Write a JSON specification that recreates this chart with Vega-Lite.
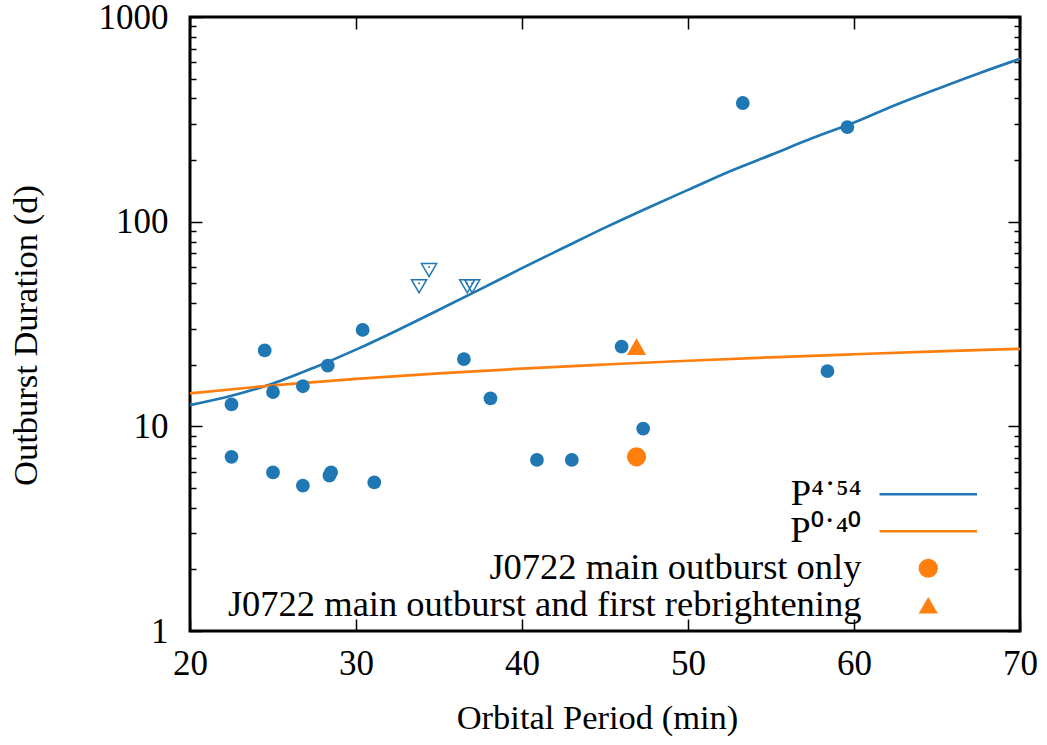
{
  "$schema": "https://vega.github.io/schema/vega-lite/v6.json",
  "width": 830,
  "height": 614,
  "autosize": {"type": "none"},
  "padding": {"left": 190, "top": 17, "right": 27, "bottom": 114},
  "background": "white",
  "config": {
    "view": {"stroke": "black", "strokeWidth": 3},
    "font": "Liberation Serif",
    "axis": {
      "grid": false,
      "domain": false,
      "labelFont": "Liberation Serif",
      "labelFontSize": 35,
      "labelColor": "black",
      "titleFont": "Liberation Serif",
      "titleFontSize": 34.5,
      "titleFontWeight": "normal",
      "titleColor": "black",
      "tickColor": "black",
      "tickWidth": 1.5,
      "labelFlush": false,
      "labelOverlap": false,
      "labelBound": false
    }
  },
  "datasets": {
    "curves": [
      {"P": 20, "D": 12.7, "series": "P4.54"},
      {"P": 22.5, "D": 14.1, "series": "P4.54"},
      {"P": 25, "D": 16.2, "series": "P4.54"},
      {"P": 27.5, "D": 19.4, "series": "P4.54"},
      {"P": 30, "D": 23.7, "series": "P4.54"},
      {"P": 32.5, "D": 29.5, "series": "P4.54"},
      {"P": 35, "D": 37.1, "series": "P4.54"},
      {"P": 37.5, "D": 46.8, "series": "P4.54"},
      {"P": 40, "D": 59.3, "series": "P4.54"},
      {"P": 42.5, "D": 74.5, "series": "P4.54"},
      {"P": 45, "D": 93.5, "series": "P4.54"},
      {"P": 47.5, "D": 116, "series": "P4.54"},
      {"P": 50, "D": 143, "series": "P4.54"},
      {"P": 52.5, "D": 176, "series": "P4.54"},
      {"P": 55, "D": 212, "series": "P4.54"},
      {"P": 57.5, "D": 256, "series": "P4.54"},
      {"P": 60, "D": 305, "series": "P4.54"},
      {"P": 62.5, "D": 372, "series": "P4.54"},
      {"P": 65, "D": 445, "series": "P4.54"},
      {"P": 67.5, "D": 530, "series": "P4.54"},
      {"P": 70, "D": 625, "series": "P4.54"},
      {"P": 20, "D": 14.5, "series": "P0.40"},
      {"P": 25, "D": 15.85, "series": "P0.40"},
      {"P": 30, "D": 17.05, "series": "P0.40"},
      {"P": 35, "D": 18.13, "series": "P0.40"},
      {"P": 40, "D": 19.14, "series": "P0.40"},
      {"P": 45, "D": 20.05, "series": "P0.40"},
      {"P": 50, "D": 20.92, "series": "P0.40"},
      {"P": 55, "D": 21.73, "series": "P0.40"},
      {"P": 60, "D": 22.5, "series": "P0.40"},
      {"P": 65, "D": 23.24, "series": "P0.40"},
      {"P": 70, "D": 23.93, "series": "P0.40"}
    ],
    "obs": [
      {"P": 22.5, "D": 12.8, "kind": "detected"},
      {"P": 24.5, "D": 23.5, "kind": "detected"},
      {"P": 25.0, "D": 14.7, "kind": "detected"},
      {"P": 26.8, "D": 15.7, "kind": "detected"},
      {"P": 28.3, "D": 19.8, "kind": "detected"},
      {"P": 30.4, "D": 29.6, "kind": "detected"},
      {"P": 36.5, "D": 21.3, "kind": "detected"},
      {"P": 38.1, "D": 13.7, "kind": "detected"},
      {"P": 22.5, "D": 7.1, "kind": "detected"},
      {"P": 25.0, "D": 5.95, "kind": "detected"},
      {"P": 26.8, "D": 5.13, "kind": "detected"},
      {"P": 28.4, "D": 5.75, "kind": "detected"},
      {"P": 28.5, "D": 5.95, "kind": "detected"},
      {"P": 31.1, "D": 5.32, "kind": "detected"},
      {"P": 40.9, "D": 6.85, "kind": "detected"},
      {"P": 43.0, "D": 6.85, "kind": "detected"},
      {"P": 46.0, "D": 24.5, "kind": "detected"},
      {"P": 47.3, "D": 9.75, "kind": "detected"},
      {"P": 53.3, "D": 380, "kind": "detected"},
      {"P": 59.6, "D": 290, "kind": "detected"},
      {"P": 58.4, "D": 18.6, "kind": "detected"},
      {"P": 33.8, "D": 50, "kind": "limit"},
      {"P": 34.4, "D": 60, "kind": "limit"},
      {"P": 36.7, "D": 50, "kind": "limit"},
      {"P": 37.0, "D": 50, "kind": "limit"}
    ],
    "j0722": [
      {"P": 46.9, "D": 7.1, "series": "J0722 main outburst only"},
      {"P": 46.9, "D": 24.5, "series": "J0722 main outburst and first rebrightening"}
    ]
  },
  "layer": [
    {
      "data": {"name": "curves"},
      "mark": {"type": "line", "strokeWidth": 2.7, "interpolate": "monotone"},
      "encoding": {
        "x": {
          "field": "P", "type": "quantitative",
          "scale": {"domain": [20, 70], "nice": false, "zero": false},
          "axis": {
            "orient": "bottom",
            "values": [20, 30, 40, 50, 60, 70],
            "tickSize": -12,
            "labelPadding": 27,
            "title": "Orbital Period (min)",
            "titleX": 407,
            "titleY": 97,
            "titleAlign": "center",
            "titleBaseline": "alphabetic"
          }
        },
        "y": {
          "field": "D", "type": "quantitative",
          "scale": {"type": "log", "domain": [1, 1000], "nice": false},
          "axis": {
            "orient": "left",
            "values": [1, 2, 3, 4, 5, 6, 7, 8, 9, 10, 20, 30, 40, 50, 60, 70, 80, 90, 100, 200, 300, 400, 500, 600, 700, 800, 900, 1000],
            "labelExpr": "datum.value == 1 || datum.value == 10 || datum.value == 100 || datum.value == 1000 ? format(datum.value, 'd') : ''",
            "tickSize": {"condition": {"test": "datum.value == 1 || datum.value == 10 || datum.value == 100 || datum.value == 1000", "value": -12}, "value": -6},
            "labelPadding": 34,
            "labelBaseline": "middle",
            "title": "Outburst Duration (d)",
            "titleX": -153.5,
            "titleY": 318,
            "titleAlign": "center",
            "titleBaseline": "alphabetic",
            "titleAngle": -90
          }
        },
        "color": {
          "field": "series", "type": "nominal",
          "scale": {
            "domain": ["P4.54", "P0.40", "J0722 main outburst only", "J0722 main outburst and first rebrightening"],
            "range": ["#1f77b4", "#ff7f0e", "#ff7f0e", "#ff7f0e"]
          },
          "legend": {
            "title": null,
            "orient": "none",
            "legendX": 720,
            "legendY": 459,
            "symbolSize": 100,
            "symbolOffset": 0,
            "labelFont": "Liberation Serif",
            "labelFontSize": 36.5,
            "labelColor": "black",
            "labelAlign": "right",
            "labelOffset": -85,
            "labelLimit": 2000,
            "rowPadding": 0,
            "labelExpr": "datum.value == 'P4.54' ? 'P⁴˙⁵⁴' : datum.value == 'P0.40' ? 'P⁰˙⁴⁰' : datum.value",
            "encode": {
              "symbols": {
                "update": {
                  "shape": {"signal": "datum.value == 'J0722 main outburst only' ? 'circle' : datum.value == 'J0722 main outburst and first rebrightening' ? 'triangle-up' : 'stroke'"},
                  "size": {"signal": "datum.value == 'P4.54' || datum.value == 'P0.40' ? 9500 : 370"},
                  "fill": {"scale": "color", "field": "value"},
                  "stroke": {"scale": "color", "field": "value"},
                  "strokeWidth": {"signal": "datum.value == 'P4.54' || datum.value == 'P0.40' ? 2.7 : 0"},
                  "opacity": {"value": 1}
                }
              }
            }
          }
        }
      }
    },
    {
      "data": {"name": "obs"},
      "transform": [{"filter": "datum.kind == 'detected'"}],
      "mark": {"type": "point", "shape": "circle", "filled": true, "size": 190, "color": "#1f77b4", "opacity": 1},
      "encoding": {
        "x": {
          "field": "P", "type": "quantitative",
          "axis": {"orient": "top", "values": [20, 30, 40, 50, 60, 70], "tickSize": -12, "labels": false, "title": null}
        },
        "y": {
          "field": "D", "type": "quantitative",
          "axis": {
            "orient": "right",
            "values": [1, 2, 3, 4, 5, 6, 7, 8, 9, 10, 20, 30, 40, 50, 60, 70, 80, 90, 100, 200, 300, 400, 500, 600, 700, 800, 900, 1000],
            "tickSize": {"condition": {"test": "datum.value == 1 || datum.value == 10 || datum.value == 100 || datum.value == 1000", "value": -12}, "value": -6},
            "labels": false,
            "title": null
          }
        }
      }
    },
    {
      "data": {"name": "obs"},
      "transform": [{"filter": "datum.kind == 'limit'"}],
      "mark": {"type": "point", "shape": "triangle-down", "filled": false, "size": 230, "color": "#1f77b4", "strokeWidth": 1.5, "opacity": 1, "yOffset": 3},
      "encoding": {
        "x": {"field": "P", "type": "quantitative", "axis": null},
        "y": {"field": "D", "type": "quantitative", "axis": null}
      }
    },
    {
      "data": {"name": "obs"},
      "transform": [{"filter": "datum.kind == 'limit'"}],
      "mark": {"type": "point", "shape": "circle", "filled": true, "size": 4, "color": "#1f77b4", "opacity": 1},
      "encoding": {
        "x": {"field": "P", "type": "quantitative", "axis": null},
        "y": {"field": "D", "type": "quantitative", "axis": null}
      }
    },
    {
      "data": {"name": "j0722"},
      "transform": [{"filter": "datum.series == 'J0722 main outburst only'"}],
      "mark": {"type": "point", "shape": "circle", "filled": true, "size": 370, "color": "#ff7f0e", "opacity": 1},
      "encoding": {
        "x": {"field": "P", "type": "quantitative", "axis": null},
        "y": {"field": "D", "type": "quantitative", "axis": null}
      }
    },
    {
      "data": {"name": "j0722"},
      "transform": [{"filter": "datum.series == 'J0722 main outburst and first rebrightening'"}],
      "mark": {"type": "point", "shape": "triangle-up", "filled": true, "size": 370, "color": "#ff7f0e", "opacity": 1},
      "encoding": {
        "x": {"field": "P", "type": "quantitative", "axis": null},
        "y": {"field": "D", "type": "quantitative", "axis": null}
      }
    }
  ],
  "resolve": {"axis": {"x": "independent", "y": "independent"}}
}
